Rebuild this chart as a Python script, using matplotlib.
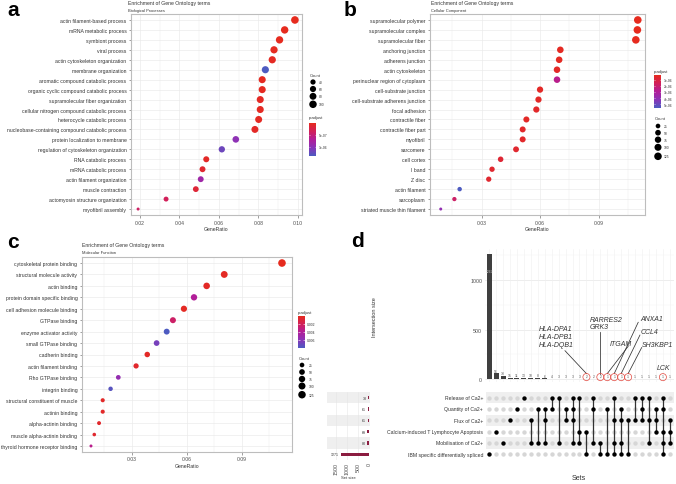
import numpy as np
import matplotlib
matplotlib.use('Agg')
import matplotlib.pyplot as plt
from matplotlib.colors import LinearSegmentedColormap

plt.rcParams['font.family'] = ['Liberation Sans', 'DejaVu Sans']

W, H = 676, 485

# --- a: Biological Processes ---
bp_terms = ['actin filament-based process', 'mRNA metabolic process', 'symbiont process', 'viral process',
            'actin cytoskeleton organization', 'membrane organization', 'aromatic compound catabolic process',
            'organic cyclic compound catabolic process', 'supramolecular fiber organization',
            'cellular nitrogen compound catabolic process', 'heterocycle catabolic process',
            'nucleobase-containing compound catabolic process', 'protein localization to membrane',
            'regulation of cytoskeleton organization', 'RNA catabolic process', 'mRNA catabolic process',
            'actin filament organization', 'muscle contraction', 'actomyosin structure organization',
            'myofibril assembly']
bp_ratio = [0.0986, 0.0934, 0.0908, 0.0880, 0.0871, 0.0836, 0.0820, 0.0820, 0.0810, 0.0810,
            0.0802, 0.0783, 0.0686, 0.0615, 0.0536, 0.0517, 0.0508, 0.0483, 0.0332, 0.0190]
bp_count = [104, 98, 95, 92, 91, 88, 86, 86, 85, 85, 84, 82, 72, 64, 56, 54, 53, 51, 35, 20]
bp_padj = [2e-09, 5e-09, 1e-08, 1.5e-08, 3e-08, 1.38e-06, 2e-08, 2e-08, 4e-08, 3e-08,
           3e-08, 6e-08, 1.0e-06, 1.2e-06, 6e-08, 1e-07, 8.5e-07, 1.5e-07, 3.5e-07, 4e-07]

# --- b: Cellular Component ---
cc_terms = ['supramolecular polymer', 'supramolecular complex', 'supramolecular fiber', 'anchoring junction',
            'adherens junction', 'actin cytoskeleton', 'perinuclear region of cytoplasm',
            'cell-substrate junction', 'cell-substrate adherens junction', 'focal adhesion',
            'contractile fiber', 'contractile fiber part', 'myofibril', 'sarcomere', 'cell cortex',
            'I band', 'Z disc', 'actin filament', 'sarcoplasm', 'striated muscle thin filament']
cc_ratio = [0.1100, 0.1098, 0.1090, 0.0703, 0.0697, 0.0686, 0.0686, 0.0599, 0.0591, 0.0580,
            0.0529, 0.0510, 0.0510, 0.0476, 0.0397, 0.0353, 0.0336, 0.0187, 0.0160, 0.0090]
cc_count = [128, 128, 127, 82, 81, 80, 80, 70, 69, 68, 62, 60, 60, 56, 46, 41, 39, 22, 19, 10]
cc_padj = [1.8e-07, 2e-07, 2.2e-07, 3e-07, 3e-07, 4e-07, 2.6e-06, 4e-07, 4e-07, 5e-07,
           4e-07, 5e-07, 5e-07, 6e-07, 7e-07, 6e-07, 6e-07, 5.66e-06, 1.8e-06, 4.0e-06]

# --- c: Molecular Function ---
mf_terms = ['cytoskeletal protein binding', 'structural molecule activity', 'actin binding',
            'protein domain specific binding', 'cell adhesion molecule binding', 'GTPase binding',
            'enzyme activator activity', 'small GTPase binding', 'cadherin binding',
            'actin filament binding', 'Rho GTPase binding', 'integrin binding',
            'structural constituent of muscle', 'actinin binding', 'alpha-actinin binding',
            'muscle alpha-actinin binding', 'thyroid hormone receptor binding']
mf_ratio = [0.1120, 0.0805, 0.0709, 0.0640, 0.0585, 0.0525, 0.0491, 0.0436, 0.0385,
            0.0324, 0.0227, 0.0185, 0.0142, 0.0142, 0.0122, 0.0096, 0.0078]
mf_count = [130, 94, 82, 74, 68, 61, 57, 51, 45, 38, 26, 21, 16, 16, 14, 11, 9]
mf_padj = [1.2e-05, 2e-04, 3e-04, 0.0040, 2e-04, 0.0024, 0.0080, 0.0066, 3e-04,
           5e-04, 0.0055, 0.0076, 4e-04, 4e-04, 5e-04, 6e-04, 0.0036]

# --- d: UpSet ---
set_names = ['Release of Ca2+', 'Quantity of Ca2+', 'Flux of Ca2+',
             'Calcium-induced T Lymphocyte Apoptosis', 'Mobilisation of Ca2+',
             'IBM specific differentially spliced']
set_sizes = [33, 61, 61, 69, 80, 1271]
inter_sizes = [1262, 56, 33, 15, 11, 13, 10, 8, 6, 4, 3, 3, 3, 3, 2, 2, 2, 1, 1, 1, 1, 1, 1, 1, 1, 1, 1]
inter_sets = [(5,), (3,), (4,), (2,), (1,), (0,), (2, 4), (1, 4), (1, 2, 4), (0, 1), (0, 4), (1, 2),
              (0, 1, 2, 4), (0, 3, 4), (3, 5), (0, 1, 4), (4, 5), (1, 5), (0, 2, 4, 5), (1, 2, 4, 5),
              (2, 5), (0, 2), (0, 1, 2), (0, 2, 4), (1, 2, 3), (0, 1, 3, 4, 5), (2, 3, 4)]
highlight = [14, 16, 17, 18, 19, 20, 25]

fig = plt.figure(figsize=(W / 100, H / 100), dpi=100)


def px_axes(x0, y0, x1, y1):
    return fig.add_axes([x0 / W, 1 - y1 / H, (x1 - x0) / W, (y1 - y0) / H])


def ftext(x, y, s, **kw):
    fig.text(x / W, 1 - y / H, s, **kw)


cmap = LinearSegmentedColormap.from_list('padj', ['#E62B1E', '#D2205A', '#B21E99', '#8A34B8', '#4D5BC1'])
GRID = '#EBEBEB'


def dot_size(c, cmin, cmax):
    t = np.clip((np.asarray(c, float) - cmin) / (cmax - cmin), 0, 1)
    d = 3.0 + np.sqrt(t) * 4.6  # diameter in px
    return (d * 0.72) ** 2


def dot_panel(box, terms, ratio, count, padj, xlim, xticks, xminor, ylim_pad):
    ax = px_axes(*box)
    n = len(terms)
    ypos = np.arange(n)
    ax.scatter(ratio, ypos, s=dot_size(count, min(count), max(count)), c=padj, cmap=cmap,
               vmin=min(padj), vmax=max(padj), zorder=3, linewidths=0)
    ax.set_xlim(*xlim)
    ax.set_ylim(n - 1 + ylim_pad, -ylim_pad)
    ax.set_yticks(ypos)
    ax.set_yticklabels(terms, fontsize=3.7, color='#333333')
    ax.set_xticks(xticks)
    ax.set_xticklabels(['%.2f' % v for v in xticks], fontsize=3.7, color='#4D4D4D')
    ax.set_xticks(xminor, minor=True)
    ax.tick_params(axis='both', which='major', length=1.8, width=0.4, color='#555555', pad=1.5)
    ax.tick_params(axis='x', which='minor', length=0)
    ax.grid(True, which='major', color=GRID, lw=0.5, zorder=0)
    ax.grid(True, which='minor', axis='x', color=GRID, lw=0.3, zorder=0)
    ax.set_axisbelow(True)
    for sp in ax.spines.values():
        sp.set_color('#BDBDBD')
        sp.set_linewidth(0.8)
    ax.set_xlabel('GeneRatio', fontsize=3.7, color='#333333', labelpad=1)
    return ax


def colorbar(box, vmin, vmax, ticks, labels):
    cax = px_axes(*box)
    vals = np.linspace(vmin, vmax, 200)
    cax.imshow(vals[:, None], aspect='auto', cmap=cmap, extent=[0, 1, vmax, vmin], vmin=vmin, vmax=vmax)
    cax.set_xticks([])
    cax.yaxis.tick_right()
    cax.set_yticks(ticks)
    cax.set_yticklabels(labels, fontsize=2.4, color='#333333')
    cax.tick_params(axis='y', length=0, pad=2)
    cax.hlines(ticks, 0, 0.2, color='white', lw=0.4)
    cax.hlines(ticks, 0.8, 1, color='white', lw=0.4)
    for sp in cax.spines.values():
        sp.set_visible(False)


def size_legend(ov, x, ys, vals, cmin, cmax, title_y, lab_x):
    ov.text(x - 3, title_y, 'Count', fontsize=3.0, color='#333333', va='center')
    ov.scatter([x] * len(vals), ys, s=dot_size(vals, cmin, cmax), color='black', linewidths=0)
    for yy, v in zip(ys, vals):
        ov.text(lab_x, yy, str(v), fontsize=2.4, color='#333333', va='center')


# overlay axes in pixel coordinates for legends and labels
ov = fig.add_axes([0, 0, 1, 1])
ov.set_xlim(0, W)
ov.set_ylim(H, 0)
ov.axis('off')
ov.patch.set_alpha(0)

# ---------- panel a ----------
dot_panel((131, 15, 302, 216), bp_terms, bp_ratio, bp_count, bp_padj, (0.0154, 0.1022),
          [0.02, 0.04, 0.06, 0.08, 0.10], [0.03, 0.05, 0.07, 0.09], 0.6)
ftext(128.5, 4, 'Enrichment of Gene Ontology terms', fontsize=3.7, color='#333333', va='center')
ftext(128.5, 10.7, 'Biological Processes', fontsize=2.9, color='#333333', va='center')
ftext(13, 11, 'a', fontsize=15, fontweight='bold', ha='center', va='center')
size_legend(ov, 313, [83, 90, 97.3, 105.3], [40, 60, 80, 100], min(bp_count), max(bp_count), 76, 319)
ov.text(309, 118, 'p.adjust', fontsize=3.0, color='#333333', va='center')
colorbar((309, 124, 316, 157), min(bp_padj), max(bp_padj), [5e-07, 1e-06], ['5e-07', '1e-06'])

# ---------- panel b ----------
dot_panel((430, 15, 645, 216), cc_terms, cc_ratio, cc_count, cc_padj, (0.0035, 0.1137),
          [0.03, 0.06, 0.09], [0.015, 0.045, 0.075, 0.105], 0.6)
ftext(430.7, 4, 'Enrichment of Gene Ontology terms', fontsize=3.7, color='#333333', va='center')
ftext(430.7, 10.7, 'Cellular Component', fontsize=2.9, color='#333333', va='center')
ftext(350, 10, 'b', fontsize=15, fontweight='bold', ha='center', va='center')
ov.text(654, 71.7, 'p.adjust', fontsize=3.0, color='#333333', va='center')
colorbar((654, 76, 661, 109), min(cc_padj), max(cc_padj), [1e-06, 2e-06, 3e-06, 4e-06, 5e-06],
         ['1e-06', '2e-06', '3e-06', '4e-06', '5e-06'])
size_legend(ov, 658, [127, 133.7, 140.7, 148.3, 157.3], [25, 50, 75, 100, 125],
            min(cc_count), max(cc_count), 119, 664)

# ---------- panel c ----------
dot_panel((82, 258.3, 291.7, 452.7), mf_terms, mf_ratio, mf_count, mf_padj, (0.0029, 0.1173),
          [0.03, 0.06, 0.09], [0.015, 0.045, 0.075, 0.105], 0.5)
ftext(81.7, 246, 'Enrichment of Gene Ontology terms', fontsize=3.7, color='#333333', va='center')
ftext(81.7, 253.3, 'Molecular Function', fontsize=2.9, color='#333333', va='center')
ftext(13, 242.5, 'c', fontsize=15, fontweight='bold', ha='center', va='center')
ov.text(298, 312.7, 'p.adjust', fontsize=3.0, color='#333333', va='center')
colorbar((298.3, 317, 304.5, 349), min(mf_padj), max(mf_padj), [0.002, 0.004, 0.006],
         ['0.002', '0.004', '0.006'])
size_legend(ov, 302, [366, 373, 380, 387, 395.7], [25, 50, 75, 100, 125],
            min(mf_count), max(mf_count), 359.3, 309)

# ---------- panel d: UpSet ----------
ftext(357, 241.5, 'd', fontsize=15, fontweight='bold', ha='center', va='center')
n_col = len(inter_sizes)
n_set = len(set_names)
xl = (-0.6, n_col - 0.4)

# row stripes behind the set-size bars and the matrix
for box in [(327, 393, 370, 461), (486, 393, 674, 461)]:
    bg = px_axes(*box)
    bg.set_xlim(0, 1)
    bg.set_ylim(n_set - 0.5, -0.5)
    for i in range(0, n_set, 2):
        bg.axhspan(i - 0.5, i + 0.5, color='#EFEFEF', lw=0)
    bg.axis('off')

# intersection bars
bx = px_axes(485, 250, 674, 383)
cols = np.arange(n_col)
bx.bar(cols, inter_sizes, width=0.72, color='#3F3F3F', zorder=2)
bx.set_xlim(*xl)
bx.set_ylim(-30, 1313)
bx.set_xticks([])
bx.set_yticks([0, 500, 1000])
bx.set_yticklabels(['0', '500', '1000'], fontsize=3.8, color='#4D4D4D')
bx.tick_params(axis='y', length=0, pad=2)
for v in [250, 750, 1250]:
    bx.axhline(v, color='#F2F2F2', lw=0.3, zorder=0)
for v in [0, 500, 1000]:
    bx.axhline(v, color='#E6E6E6', lw=0.5, zorder=0)
for c in cols:
    bx.axvline(c, color='#F0F0F0', lw=0.4, zorder=0)
for sp in bx.spines.values():
    sp.set_visible(False)
bx.patch.set_alpha(0)
for c, v in zip(cols, inter_sizes):
    if c == 0:
        bx.text(c, 1094, str(v), fontsize=2.4, color='#BBBBBB', ha='center', va='center', zorder=3)
    else:
        bx.text(c, v + 8, str(v), fontsize=2.4, color='#555555', ha='center', va='bottom', zorder=3)
bx.scatter(highlight, [inter_sizes[c] + 18 for c in highlight], s=26, facecolors='none',
           edgecolors='#E2483F', linewidths=0.5, zorder=4, clip_on=False)

# gene labels
lab_kw = dict(fontsize=5, style='italic', color='#333333', linespacing=1.15)
line_kw = dict(color='#333333', lw=0.55)
bx.text(9.62, 431, 'HLA-DPA1\nHLA-DPB1\nHLA-DQB1', ha='center', va='center', **lab_kw)
bx.plot([10.91, 14], [286, 55], **line_kw)
bx.text(14.5, 566, 'RARRES2\nGRK3', ha='left', va='center', **lab_kw)
bx.plot([16, 16], [475, 55], **line_kw)
bx.text(17.4, 354, 'ITGAM', ha='left', va='center', **lab_kw)
bx.plot([20.0, 17], [330, 55], **line_kw)
bx.text(21.8, 613, 'ANXA1', ha='left', va='center', **lab_kw)
bx.plot([21.45, 18], [573, 55], **line_kw)
bx.text(21.8, 482, 'CCL4', ha='left', va='center', **lab_kw)
bx.plot([21.7, 19], [444, 55], **line_kw)
bx.text(21.95, 346, 'SH3KBP1', ha='left', va='center', **lab_kw)
bx.plot([21.95, 20], [318, 55], **line_kw)
bx.text(24.1, 118, 'LCK', ha='left', va='center', **lab_kw)

ftext(375, 317, 'Intersection size', fontsize=4, color='#333333', rotation=90, ha='center', va='center')

# membership matrix
mx = px_axes(485, 393, 674, 461)
mx.set_xlim(*xl)
mx.set_ylim(n_set - 0.5, -0.5)
for c in cols:
    members = inter_sets[c]
    off = [r for r in range(n_set) if r not in members]
    mx.scatter([c] * len(off), off, s=10, color='#D6D6D6', linewidths=0, zorder=2)
    if len(members) > 1:
        mx.plot([c, c], [min(members), max(members)], color='#333333', lw=0.9, zorder=3)
    mx.scatter([c] * len(members), members, s=10, color='black', linewidths=0, zorder=4)
mx.axis('off')
for i, name in enumerate(set_names):
    ftext(483, 393 + (i + 0.5) * 68 / n_set, name, fontsize=3.7, color='#333333', ha='right', va='center')
ftext(579, 479, 'Sets', fontsize=5, color='#333333', ha='center', va='center')

# set sizes
sx = px_axes(327, 393, 369, 461)
sx.barh(np.arange(n_set), set_sizes, height=0.3, color='#8B1C40')
sx.set_xlim(1890, 0)
sx.set_ylim(n_set - 0.5, -0.5)
for i, v in enumerate(set_sizes):
    sx.text(v + 80, i, str(v), fontsize=2.6, color='#333333', ha='right', va='center')
sx.set_yticks([])
sx.set_xticks([1500, 1000, 500, 0])
sx.set_xticklabels(['1500', '1000', '500', '0'], rotation=90, fontsize=3.8, color='#4D4D4D')
sx.tick_params(axis='x', length=0, pad=1.5)
for v in [1500, 1000, 500, 0]:
    sx.axvline(v, color='#E6E6E6', lw=0.4, zorder=0)
for sp in sx.spines.values():
    sp.set_visible(False)
sx.patch.set_alpha(0)
ftext(348, 478.5, 'Set size', fontsize=3.0, color='#333333', ha='center', va='center')

fig.savefig('out.png', dpi=100)
